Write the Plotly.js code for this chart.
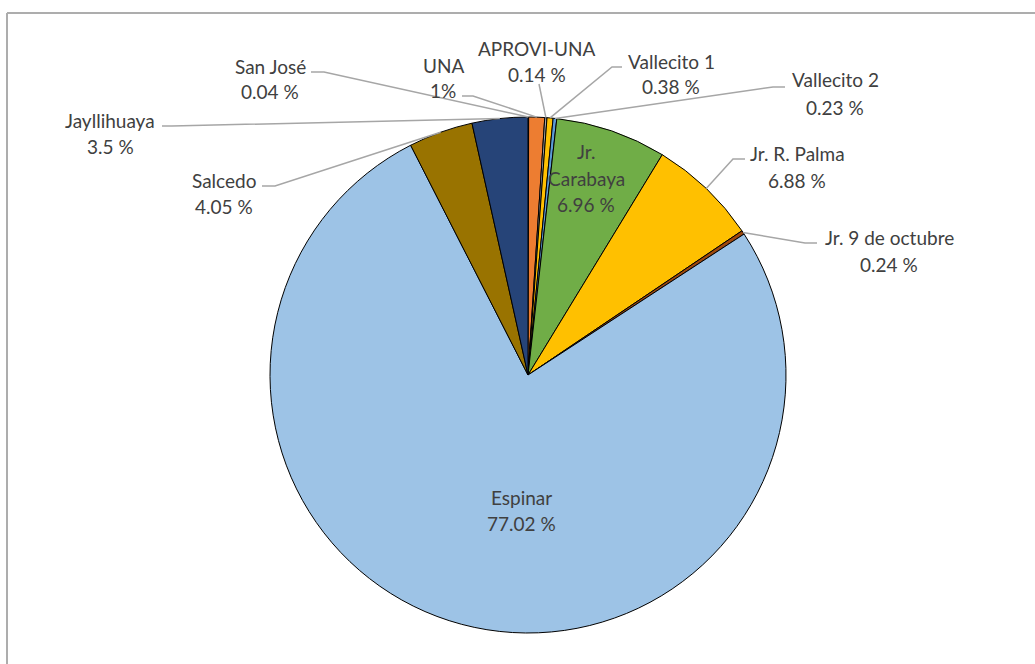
<!DOCTYPE html>
<html>
<head>
<meta charset="utf-8">
<script src="https://cdn.plot.ly/plotly-3.0.1.min.js"></script>
<style>html,body{margin:0;padding:0;background:#fff;}#chart{width:1035px;height:664px;}</style>
</head>
<body>
<div id="chart"></div>
<script>
// ---- data ----
const labels = ['San José','UNA','APROVI-UNA','Vallecito 1','Vallecito 2','Jr. Carabaya','Jr. R. Palma','Jr. 9 de octubre','Espinar','Salcedo','Jayllihuaya'];
const values = [0.04, 1, 0.14, 0.38, 0.23, 6.96, 6.88, 0.24, 77.02, 4.05, 3.5];
const valueText = ['0.04 %','1%','0.14 %','0.38 %','0.23 %','6.96 %','6.88 %','0.24 %','77.02 %','4.05 %','3.5 %'];
const nameLines = [['San José'],['UNA'],['APROVI-UNA'],['Vallecito 1'],['Vallecito 2'],['Jr.','Carabaya'],['Jr. R. Palma'],['Jr. 9 de octubre'],['Espinar'],['Salcedo'],['Jayllihuaya']];
const colors = ['#4472C4','#ED7D31','#A5A5A5','#FFC000','#5B9BD5','#70AD47','#FFC000','#9E480E','#9DC3E6','#997300','#264478'];

// ---- layout constants (pixels) ----
const W = 1035, H = 664;
const CX = 528, CY = 375, R = 258;
const labelLayout = [
  {x:270, ys:[66,92],  leader:[[311,72],[324,72]]},
  {x:443, ys:[65,90],  leader:[[462,96],[473,96]]},
  {x:537, ys:[48,74],  leader:[[539,84]]},
  {x:671, ys:[61,87],  leader:[[622,67],[612,67]]},
  {x:835, ys:[80,107], leader:[[785,87],[773,87]]},
  {x:586, ys:[152,178,204], leader:null},
  {x:797, ys:[153,180], leader:[[745,159],[733,159]]},
  {x:889, ys:[237,264], leader:[[817,243],[805,243]]},
  {x:521, ys:[497,523], leader:null},
  {x:224, ys:[180,206], leader:[[262,186],[275,186]]},
  {x:110, ys:[120,147], leader:[[162,126],[172,126]]}
];

const px = x => x / W;
const py = y => 1 - y / H;
const FONT = 'Lato, "Liberation Sans", Arial, sans-serif';
const TXT = '#404040';

const total = values.reduce((a,b)=>a+b,0);
let cum = 0;
const annotations = [];
const shapes = [];
values.forEach((v,i)=>{
  const mid = (cum + v/2) / total * 2 * Math.PI;
  cum += v;
  const ax = CX + R*Math.sin(mid), ay = CY - R*Math.cos(mid);
  const L = labelLayout[i];
  const lines = nameLines[i].concat([valueText[i]]);
  lines.forEach((t,k)=>{
    annotations.push({x:px(L.x), y:py(L.ys[k]), xref:'paper', yref:'paper', text:t,
      showarrow:false, xanchor:'center', yanchor:'middle',
      font:{family:FONT, size:19, color:TXT}});
  });
  if (L.leader) {
    const pts = L.leader.concat([[ax, ay]]);
    const path = pts.map((p,k)=>(k?'L':'M')+px(p[0]).toFixed(5)+','+py(p[1]).toFixed(5)).join(' ');
    shapes.push({type:'path', xref:'paper', yref:'paper', path:path,
      line:{color:'#A6A6A6', width:1.5}});
  }
});
// chart border
shapes.push({type:'line', xref:'paper', yref:'paper', x0:px(7), y0:py(13), x1:px(1035), y1:py(13), line:{color:'#ADADAD', width:2}});
shapes.push({type:'line', xref:'paper', yref:'paper', x0:px(7), y0:py(13), x1:px(7), y1:py(664), line:{color:'#ADADAD', width:2}});

const trace = {
  type:'pie', labels:labels, values:values, sort:false, direction:'clockwise', rotation:0,
  marker:{colors:colors, line:{color:'#000000', width:1}},
  textinfo:'none', textposition:'none', hoverinfo:'label+percent',
  domain:{x:[px(CX-R), px(CX+R)], y:[py(CY+R), py(CY-R)]}
};
const layout = {
  width:W, height:H, margin:{l:0,r:0,t:0,b:0}, showlegend:false,
  paper_bgcolor:'#ffffff', plot_bgcolor:'#ffffff',
  annotations:annotations, shapes:shapes
};
Plotly.newPlot('chart', [trace], layout, {displayModeBar:false, staticPlot:true});
</script>
</body>
</html>
